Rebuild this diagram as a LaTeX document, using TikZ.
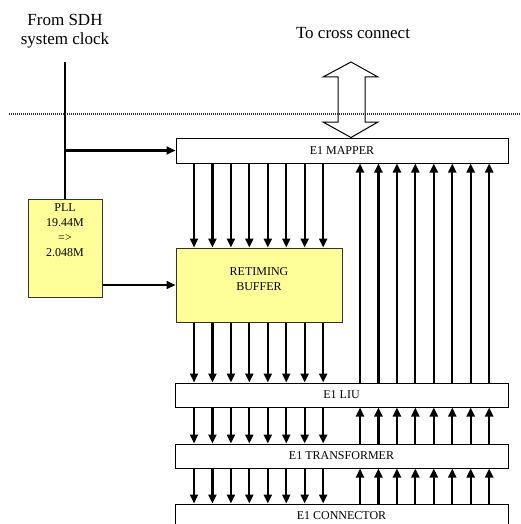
\documentclass[tikz,border=0pt]{standalone}
\usepackage{fontspec}
\setmainfont{Liberation Serif}
\usetikzlibrary{arrows.meta}
\definecolor{pllyellow}{HTML}{FFFF99}
\tikzset{
  blk/.style={draw=black, line width=1pt, fill=white, rectangle, inner sep=0pt,
    font=\fontsize{12}{15}\selectfont},
  ybox/.style={draw=black!80, line width=1pt, fill=pllyellow, rectangle, inner sep=0pt},
  small/.style={font=\fontsize{12}{15}\selectfont, align=center, inner sep=0pt},
  big/.style={font=\fontsize{17}{19.5}\selectfont, align=center, inner sep=0pt},
  arr/.style={line width=2.2pt, -{Triangle[length=9pt,width=8pt]}},
  wire/.style={line width=2.2pt},
  dotline/.style={line width=1.8pt, black!80, dash pattern=on 1.4pt off 0.6pt}
}
\begin{document}
\begin{tikzpicture}[x=1pt,y=-1pt]
\useasboundingbox (0,0) rectangle (520,524);
\clip (0,0) rectangle (520,524);
% labels
\node[big] (src) at (65,31) {From SDH\\system clock};
\node[big] (dst) at (353,33) {To cross connect};
% boxes
\node[blk, minimum width=332pt, minimum height=25pt] (map) at (342,150.5) {E1 MAPPER};
\node[ybox, minimum width=166pt, minimum height=74pt] (buf) at (259,285) {};
\node[small] (buft) at (259,279) {RETIMING\\BUFFER};
\node[ybox, minimum width=74pt, minimum height=98pt] (pll) at (65,248) {};
\node[small] (pllt) at (65,230.5) {PLL\\19.44M\\=>\\2.048M};
\node[blk, minimum width=333pt, minimum height=24pt] (liu) at (341.5,395) {E1 LIU};
\node[blk, minimum width=333pt, minimum height=24pt] (trf) at (341.5,456) {E1 TRANSFORMER};
\node[blk, minimum width=333pt, minimum height=24pt] (con) at (341.5,516) {E1 CONNECTOR};
% clock
\coordinate (clk) at (65,62);
\draw[wire] (clk) -- (pll.north);
\draw[arr] (clk |- map.west) -- (map.west);
\draw[arr] (pll.east |- buf.west) -- (buf.west);
% down arrows
\foreach \i in {0,...,7}{
  \pgfmathsetmacro{\xx}{194+18.45*\i}
  \draw[arr] (\xx,0 |- map.south) -- (\xx,0 |- buf.north);
  \draw[arr] (\xx,0 |- buf.south) -- (\xx,0 |- liu.north);
  \draw[arr] (\xx,0 |- liu.south) -- (\xx,0 |- trf.north);
  \draw[arr] (\xx,0 |- trf.south) -- (\xx,0 |- con.north);
}
% up arrows
\foreach \i in {0,...,7}{
  \pgfmathsetmacro{\xx}{360+18.45*\i}
  \draw[arr] (\xx,0 |- liu.north) -- (\xx,0 |- map.south);
  \draw[arr] (\xx,0 |- trf.north) -- (\xx,0 |- liu.south);
  \draw[arr] (\xx,0 |- con.north) -- (\xx,0 |- trf.south);
}
% double arrow to cross connect
\draw[line width=1pt, line join=miter]
  (351,62) -- (378,77) -- (365,77) -- (365,122) -- (378,122) -- (351,137.5)
  -- (323,122) -- (338,122) -- (338,77) -- (323,77) -- cycle;
% boundary line
\draw[dotline] (9,114) -- (520,114);
\end{tikzpicture}
\end{document}
